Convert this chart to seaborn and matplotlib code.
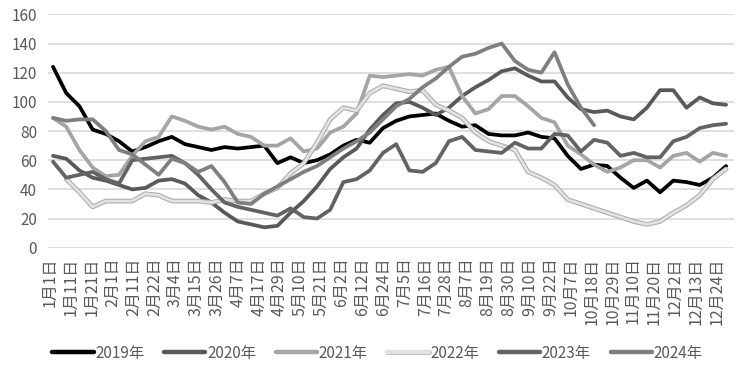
import numpy as np
import pandas as pd
import matplotlib
matplotlib.use('Agg')
import matplotlib.pyplot as plt
import matplotlib.patheffects as pe
import seaborn as sns

#-----------data (weekly)-----------
years = ['2019年', '2020年', '2021年', '2022年', '2023年', '2024年']

v2019 = [124, 106, 97, 81, 78, 73, 66, 69, 73, 76, 71, 69, 67, 69, 68, 69, 70, 58, 62, 58,
         60, 64, 70, 74, 72, 82, 87, 90, 91, 92, 87, 83, 84, 78, 77, 77, 79, 76, 75, 63,
         54, 57, 56, 48, 41, 46, 38, 46, 45, 43, 48, 56]
v2020 = [63, 61, 53, 48, 46, 43, 40, 41, 46, 47, 44, 36, 31, 24, 18, 16, 14, 15, 24, 32,
         42, 54, 62, 68, 81, 91, 99, 100, 96, 91, 96, 104, 110, 115, 121, 123, 118, 114, 114, 103,
         95, 93, 94, 90, 88, 96, 108, 108, 96, 103, 99, 98]
v2021 = [89, 83, 67, 55, 49, 50, 63, 73, 76, 90, 87, 83, 81, 83, 78, 76, 70, 70, 75, 66,
         68, 79, 83, 92, 118, 117, 118, 119, 118, 122, 124, 104, 92, 95, 104, 104, 97, 89, 86, 70,
         64, 57, 52, 55, 60, 60, 55, 63, 65, 59, 65, 63]
v2022 = [np.nan, 47, 38, 28, 32, 32, 32, 37, 36, 32, 32, 32, 31, 33, 32, 32, 37, 41, 51, 58,
         72, 88, 96, 94, 106, 111, 109, 107, 108, 98, 94, 89, 79, 73, 70, 67, 52, 48, 43, 33,
         30, 27, 24, 21, 18, 16, 18, 24, 29, 36, 47, 54]
v2023 = [59, 48, 50, 52, 47, 44, 60, 61, 62, 63, 58, 50, 40, 31, 28, 26, 24, 22, 27, 21,
         20, 26, 45, 47, 53, 65, 71, 53, 52, 58, 73, 76, 67, 66, 65, 72, 68, 68, 78, 77,
         66, 74, 72, 63, 65, 62, 62, 73, 76, 82, 84, 85]
v2024 = [89, 87, 88, 88, 80, 67, 64, 57, 50, 61, 58, 52, 56, 45, 31, 30, 37, 42, 47, 52,
         56, 62, 68, 73, 79, 88, 97, 102, 110, 116, 124, 131, 133, 137, 140, 128, 122, 120, 134, 112,
         96, 84] + [np.nan] * 10

tick_labels = ['1月1日', '1月11日', '1月21日', '2月1日', '2月11日', '2月22日', '3月4日', '3月15日',
               '3月26日', '4月7日', '4月17日', '4月29日', '5月10日', '5月21日', '6月2日', '6月12日',
               '6月24日', '7月5日', '7月16日', '7月28日', '8月7日', '8月19日', '8月30日', '9月10日',
               '9月22日', '10月7日', '10月18日', '10月29日', '11月10日', '11月20日', '12月2日',
               '12月13日', '12月24日']

colors = ['#000000', '#595959', '#a5a5a5', '#e2e2e2', '#636363', '#7f7f7f']

#-----------long form table for seaborn-----------
frames = []
for name, vals in zip(years, [v2019, v2020, v2021, v2022, v2023, v2024]):
    frames.append(pd.DataFrame({'week': np.arange(len(vals)), 'value': vals, 'year': name}))
df = pd.concat(frames).dropna()

#-----------plot-----------
sns.set_style('white')
plt.rcParams['font.family'] = ['Noto Sans CJK SC', 'DejaVu Sans']

fig = plt.figure(figsize=(7.4, 3.71), dpi=100)
ax = fig.add_axes([0.0649, 0.3323, 0.927, 0.629])

sns.lineplot(data=df, x='week', y='value', hue='year', hue_order=years,
             palette=dict(zip(years, colors)), linewidth=2.7, legend=False, ax=ax)

lines = ax.get_lines()
# 2022 drawn as a light line with a grey rim
lines[3].set_linewidth(2.0)
lines[3].set_path_effects([pe.Stroke(linewidth=3.4, foreground='#a8a8a8'), pe.Normal()])

ax.set_ylim(0, 160)
ax.set_yticks(range(0, 161, 20))
ax.set_xlim(-0.38, 51.6)
ax.set_xticks(np.linspace(-0.2, 50.3, len(tick_labels)))
ax.set_xticklabels(tick_labels, rotation=90)
ax.set_xlabel('')
ax.set_ylabel('')

ax.grid(axis='y', color='#d9d9d9', linewidth=1.2)
ax.grid(axis='x', visible=False)
ax.set_axisbelow(True)
sns.despine(ax=ax, left=True, bottom=True)
ax.tick_params(axis='both', length=0, labelcolor='#595959')
ax.tick_params(axis='y', pad=8, labelsize=11)
ax.tick_params(axis='x', pad=7, labelsize=11.5)

leg = fig.legend(lines, years, loc='center', bbox_to_anchor=(0.51, 0.048), ncol=6,
                 frameon=False, fontsize=11, handlelength=2.7, handletextpad=0.1,
                 columnspacing=1.3, labelcolor='#595959')
for h in leg.legend_handles:
    h.set_linewidth(3.2)

fig.savefig('out.png', dpi=100)
